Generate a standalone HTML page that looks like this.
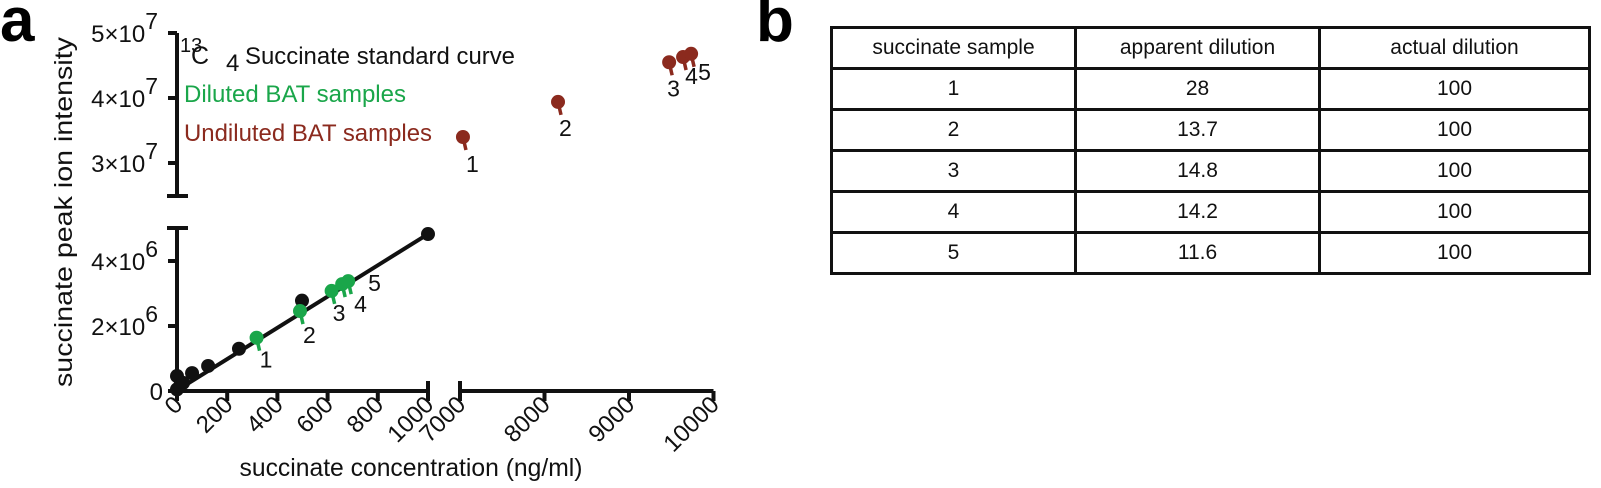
<!DOCTYPE html>
<html><head><meta charset="utf-8">
<style>
body{margin:0;background:#fff;width:1601px;height:488px;overflow:hidden;position:relative;font-family:"Liberation Sans",sans-serif;}
.panel{position:absolute;font-weight:bold;font-size:62px;line-height:1;}
table{position:absolute;left:830px;top:26px;width:761px;height:245px;border-collapse:collapse;border:3px solid #111;}
td{border:3px solid #111;text-align:center;font-size:21px;color:#111;padding:0;height:38px;}
</style></head><body>
<div class="panel" style="left:0;top:-10px;">a</div>
<div class="panel" style="left:756px;top:-10px;">b</div>
<svg id="chart" width="740" height="488" style="position:absolute;left:0;top:0" font-family="Liberation Sans, sans-serif"></svg>
<table>
<tr><td style="width:241px">succinate sample</td><td style="width:241px">apparent dilution</td><td>actual dilution</td></tr>
<tr><td>1</td><td>28</td><td>100</td></tr>
<tr><td>2</td><td>13.7</td><td>100</td></tr>
<tr><td>3</td><td>14.8</td><td>100</td></tr>
<tr><td>4</td><td>14.2</td><td>100</td></tr>
<tr><td>5</td><td>11.6</td><td>100</td></tr>
</table>
<script>
const stdX=[0,0,12,24,60,124,247,498,1000];
const stdY=[0.05e6,0.46e6,0.15e6,0.25e6,0.55e6,0.77e6,1.3e6,2.78e6,4.83e6];
const fitX=[0,1000];
const fitY=[0.02e6,4.83e6];
const dilX=[317,490,616,658,682];
const dilY=[1.64e6,2.46e6,3.08e6,3.29e6,3.38e6];
const undX=[7035,8160,9475,9640,9735];
const undY=[3.40e7,3.94e7,4.55e7,4.63e7,4.68e7];
const sampleLabels=['1','2','3','4','5'];
const xTicksLow=[0,200,400,600,800,1000];
const xTicksHigh=[7000,8000,9000,10000];
const yTicksLow=[0,2e6,4e6];
const yTicksLowLbl=['0','2×10','4×10'];
const yTicksLowExp=['','6','6'];
const yTicksHigh=[3e7,4e7,5e7];
const yTicksHighLbl=['3×10','4×10','5×10'];
const yTicksHighExp=['7','7','7'];

const svg=document.getElementById('chart');
const NS='http://www.w3.org/2000/svg';
function mk(t,a,p){const e=document.createElementNS(NS,t);for(const k in a)e.setAttribute(k,a[k]);(p||svg).appendChild(e);return e;}
const AX=177, AY=391;
function xs(v){return v<=1000? AX+v*0.251 : 460+(v-7000)*0.0845;}
function ysLow(v){return AY-v*32.5e-6;}
function ysHigh(v){return 33+(5e7-v)*6.5e-6;}
const K='#111';
let e;
e=mk('path',{d:`M${AX},228 V${AY} H${xs(1000)} M${xs(1000)},381 V401 M${AX-10},228 H${AX+11}`,stroke:K,'stroke-width':4,fill:'none'});

e=mk('path',{d:`M${AX},33 V196 M${AX-10},196 H${AX+11} M${xs(7000)},381 V${AY} H${xs(10000)}`,stroke:K,'stroke-width':4,fill:'none'});

function ytick(y,l,ex){
  mk('line',{x1:AX-9,x2:AX,y1:y,y2:y,stroke:K,'stroke-width':4});
  const t=mk('text',{x:ex?AX-19:AX-14,y:y+9,'font-size':24,'text-anchor':'end',fill:K});
  
  t.textContent=l;
  if(ex){const s=mk('tspan',{dy:-13,'font-size':23},t);s.textContent=ex;}
}
yTicksLow.forEach((v,i)=>ytick(ysLow(v),yTicksLowLbl[i],yTicksLowExp[i]));
yTicksHigh.forEach((v,i)=>ytick(ysHigh(v),yTicksHighLbl[i],yTicksHighExp[i]));
function xtick(v){
  const x=xs(v);
  mk('line',{x1:x,x2:x,y1:AY,y2:AY+10,stroke:K,'stroke-width':4});
  const t=mk('text',{x:0,y:0,'font-size':24,'text-anchor':'end',fill:K,transform:`translate(${x+7},${AY+15}) rotate(-45)`});
  
  t.textContent=v;
}
xTicksLow.forEach(xtick);xTicksHigh.forEach(xtick);
e=mk('text',{x:0,y:0,'font-size':25,'text-anchor':'middle',fill:K,textLength:350,lengthAdjust:'spacingAndGlyphs',transform:'translate(72,212) rotate(-90)'});
e.textContent='succinate peak ion intensity';
e=mk('text',{x:411,y:476,'font-size':25,'text-anchor':'middle',fill:K,textLength:343,lengthAdjust:'spacingAndGlyphs'});
e.textContent='succinate concentration (ng/ml)';
const lg=mk('g',{fill:K});
mk('text',{x:180,y:52,'font-size':20},lg).textContent='13';
mk('text',{x:191,y:64,'font-size':25},lg).textContent='C';
mk('text',{x:226,y:71,'font-size':24},lg).textContent='4';
mk('text',{x:245,y:64,'font-size':24,textLength:270,lengthAdjust:'spacingAndGlyphs'},lg).textContent='Succinate standard curve';
e=mk('text',{x:184,y:102,'font-size':24,fill:'#1aa64a',textLength:222,lengthAdjust:'spacingAndGlyphs'});e.textContent='Diluted BAT samples';
e=mk('text',{x:184,y:141,'font-size':24,fill:'#8b2a1e',textLength:248,lengthAdjust:'spacingAndGlyphs'});e.textContent='Undiluted BAT samples';
e=mk('line',{x1:xs(fitX[0]),y1:ysLow(fitY[0]),x2:xs(fitX[1]),y2:ysLow(fitY[1]),stroke:K,'stroke-width':4});

stdX.forEach((v,i)=>{const c=mk('circle',{cx:xs(v),cy:ysLow(stdY[i]),r:7,fill:K});
});
function pin(x,y,col,name){
  const g=mk('g',{});
  mk('path',{d:`M${x},${y} L${x+3},${y+13}`,stroke:col,'stroke-width':3.5},g);
  mk('circle',{cx:x,cy:y,r:7,fill:col},g);
}
const dOff=[[3,30],[3,32],[1,30],[12,28],[20,10]];
dilX.forEach((v,i)=>{const x=xs(v),y=ysLow(dilY[i]);pin(x,y,'#1aa64a','diluted-point');
  const t=mk('text',{x:x+dOff[i][0],y:y+dOff[i][1],'font-size':23,fill:K});t.textContent=sampleLabels[i];});
const uOff=[[3,35],[1,34],[-2,34],[2,27],[7,26]];
undX.forEach((v,i)=>{const x=xs(v),y=ysHigh(undY[i]);pin(x,y,'#8b2a1e','undiluted-point');
  const t=mk('text',{x:x+uOff[i][0],y:y+uOff[i][1],'font-size':23,fill:K});t.textContent=sampleLabels[i];});
</script>
</body></html>
